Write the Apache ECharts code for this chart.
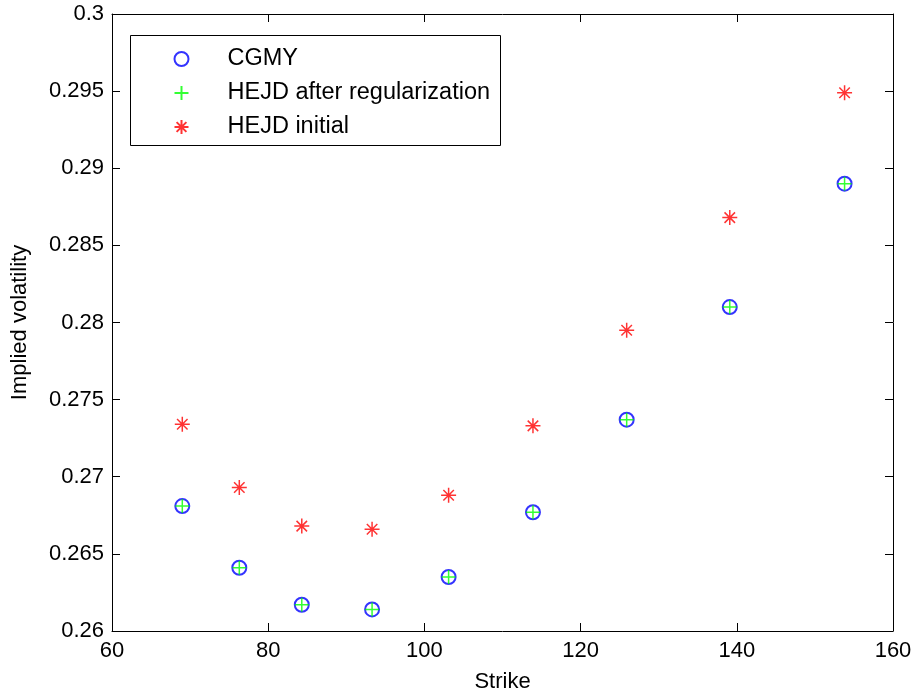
<!DOCTYPE html>
<html>
<head>
<meta charset="utf-8">
<title>Implied volatility vs strike</title>
<script src="https://cdn.jsdelivr.net/npm/echarts@6/dist/echarts.min.js"></script>
<style>
  html, body { margin: 0; padding: 0; background: #ffffff; }
  #chart { width: 920px; height: 699px; }
</style>
</head>
<body>
<div id="chart"></div>
<script>
// Strike levels
const strikes = [69, 76.3, 84.3, 93.3, 103.1, 113.9, 125.9, 139.1, 153.8];
// Implied volatilities
const cgmy = [0.2681, 0.2641, 0.2617, 0.2614, 0.2635, 0.2677, 0.2737, 0.2810, 0.2890];
const hejdRegularized = [0.2681, 0.2641, 0.2617, 0.2614, 0.2635, 0.2677, 0.2737, 0.2810, 0.2890];
const hejdInitial = [0.2734, 0.2693, 0.2668, 0.2666, 0.2688, 0.2733, 0.2795, 0.2868, 0.2949];

const seriesNames = ['CGMY', 'HEJD after regularization', 'HEJD initial'];

const pair = (xs, ys) => xs.map((x, i) => [x, ys[i]]);

const FONT = 'Liberation Sans, Arial, Helvetica, sans-serif';
const PLUS = 'path://M0,-1L0,1M-1,0L1,0';
const STAR = 'path://M-1,0L1,0M0,-1L0,1M-0.7,-0.7L0.7,0.7M-0.7,0.7L0.7,-0.7';

const boxAxis = {
  axisLine: { show: true, onZero: false, lineStyle: { color: '#000', width: 1 } },
  axisTick: { show: true, inside: true, length: 8, lineStyle: { color: '#000', width: 1 } },
  splitLine: { show: false }
};

const chart = echarts.init(document.getElementById('chart'), null, { renderer: 'canvas' });

chart.setOption({
  animation: false,
  backgroundColor: '#ffffff',
  grid: { left: 112, top: 14, right: 27, bottom: 68, containLabel: false },
  xAxis: [
    Object.assign({
      type: 'value', position: 'bottom', min: 60, max: 160, interval: 20,
      name: 'Strike', nameLocation: 'middle', nameGap: 40,
      nameTextStyle: { fontFamily: FONT, fontSize: 22, color: '#000' },
      axisLabel: { fontFamily: FONT, fontSize: 22, color: '#000', margin: 9 }
    }, boxAxis),
    Object.assign({
      type: 'value', position: 'top', min: 60, max: 160, interval: 20,
      axisLabel: { show: false }
    }, boxAxis)
  ],
  yAxis: [
    Object.assign({
      type: 'value', position: 'left', min: 0.26, max: 0.3, interval: 0.005,
      name: 'Implied volatility', nameLocation: 'middle', nameGap: 81,
      nameTextStyle: { fontFamily: FONT, fontSize: 22, color: '#000' },
      axisLabel: { fontFamily: FONT, fontSize: 22, color: '#000', margin: 8 }
    }, boxAxis),
    Object.assign({
      type: 'value', position: 'right', min: 0.26, max: 0.3, interval: 0.005,
      axisLabel: { show: false }
    }, boxAxis)
  ],
  legend: {
    orient: 'vertical',
    left: 167, top: 42,
    itemWidth: 82, itemHeight: 14, itemGap: 10,
    data: seriesNames,
    textStyle: { fontFamily: FONT, fontSize: 23.5, color: '#000', lineHeight: 23 }
  },
  graphic: [{
    type: 'rect',
    shape: { x: 130.5, y: 35.5, width: 370, height: 110 },
    style: { fill: 'none', stroke: '#000', lineWidth: 1 },
    z: 100
  }],
  series: [
    {
      name: seriesNames[0], type: 'scatter',
      data: pair(strikes, cgmy),
      symbol: 'emptyCircle', symbolSize: 14,
      itemStyle: { color: '#0000ff', borderColor: '#0000ff', borderWidth: 1.2 }
    },
    {
      name: seriesNames[1], type: 'scatter',
      data: pair(strikes, hejdRegularized),
      symbol: PLUS, symbolSize: 14,
      itemStyle: { color: 'none', borderColor: '#00ff00', borderWidth: 1.5 }
    },
    {
      name: seriesNames[2], type: 'scatter',
      data: pair(strikes, hejdInitial),
      symbol: STAR, symbolSize: 15,
      itemStyle: { color: 'none', borderColor: '#ff0000', borderWidth: 1.5 }
    }
  ]
});
</script>
</body>
</html>
